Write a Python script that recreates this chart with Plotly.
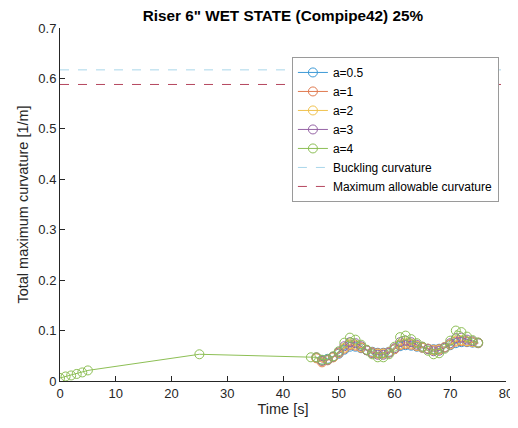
import plotly.graph_objects as go

# ---- data ----
t_cluster = list(range(46, 76))
a05 = [0.046,0.042,0.044,0.048,0.054,0.062,0.068,0.068,0.065,0.061,0.058,0.056,0.056,0.058,0.063,
       0.069,0.071,0.070,0.068,0.066,0.064,0.063,0.064,0.067,0.071,0.075,0.077,0.077,0.076,0.075]
a1 = [0.045,0.037,0.041,0.047,0.055,0.064,0.071,0.070,0.066,0.061,0.057,0.055,0.055,0.057,0.063,
      0.071,0.073,0.072,0.069,0.066,0.064,0.062,0.063,0.067,0.072,0.078,0.079,0.078,0.077,0.075]
a2 = [0.046,0.039,0.042,0.047,0.056,0.066,0.073,0.072,0.067,0.061,0.056,0.054,0.054,0.057,0.064,
      0.073,0.076,0.074,0.070,0.067,0.064,0.061,0.062,0.067,0.073,0.080,0.081,0.079,0.077,0.076]
a3 = [0.047,0.040,0.042,0.048,0.057,0.069,0.077,0.075,0.069,0.061,0.055,0.052,0.052,0.056,0.065,
      0.077,0.080,0.077,0.072,0.068,0.063,0.059,0.060,0.066,0.075,0.085,0.086,0.082,0.079,0.076]
t_a4 = [0, 1, 2, 3, 4, 5, 25, 45] + t_cluster
a4 = [0.006,0.009,0.011,0.014,0.017,0.021,0.053,0.047,
      0.047,0.042,0.043,0.049,0.059,0.076,0.086,0.082,0.072,0.062,0.053,0.047,0.047,0.053,0.068,
      0.087,0.090,0.083,0.075,0.068,0.060,0.053,0.055,0.064,0.080,0.100,0.097,0.088,0.081,0.076]
buckling = 0.617
max_allow = 0.588
x_limits = [0, 80]

series = [
    ("a=0.5", t_cluster, a05, "#3d9ad6"),
    ("a=1", t_cluster, a1, "#e07a4f"),
    ("a=2", t_cluster, a2, "#f0c24e"),
    ("a=3", t_cluster, a3, "#9563a5"),
    ("a=4", t_a4, a4, "#8dbf55"),
]

fig = go.Figure()
for name, x, y, c in series:
    fig.add_trace(go.Scatter(
        x=x, y=y, name=name, mode="lines+markers",
        line=dict(color=c, width=1),
        marker=dict(symbol="circle-open", size=9, color=c, line=dict(width=1, color=c)),
    ))

fig.add_trace(go.Scatter(x=x_limits, y=[buckling, buckling], name="Buckling curvature",
                         mode="lines", line=dict(color="#a9d6ea", width=1, dash="dash")))
fig.add_trace(go.Scatter(x=x_limits, y=[max_allow, max_allow], name="Maximum allowable curvature",
                         mode="lines", line=dict(color="#b5475f", width=1, dash="dash")))

# the page body has an 8px default margin, so the figure is sized/offset to fit the 518x428 window
font_fam = "Liberation Sans, Arial, sans-serif"
fig.update_layout(
    width=510, height=420,
    margin=dict(l=52, r=12, t=20, b=47),
    paper_bgcolor="white", plot_bgcolor="white",
    font=dict(family=font_fam, size=13, color="#262626"),
    title=dict(text='<b>Riser 6" WET STATE (Compipe42) 25%</b>', x=0.539, xanchor="center",
               y=0.981, yanchor="middle", font=dict(size=15.3, color="black")),
    showlegend=True,
    legend=dict(x=0.52, y=0.918, xanchor="left", yanchor="top",
                bgcolor="white", bordercolor="#9a9a9a", borderwidth=1,
                font=dict(size=12, color="black"), tracegroupgap=0),
)
fig.update_xaxes(range=x_limits, dtick=10, ticks="inside", ticklen=5, tickcolor="#262626",
                 showline=True, linecolor="#262626", linewidth=1, showgrid=False, zeroline=False,
                 automargin=False,
                 title=dict(text="Time [s]", font=dict(size=14.5), standoff=4),
                 tickfont=dict(size=13))
fig.update_yaxes(range=[0, 0.7], dtick=0.1, ticks="inside", ticklen=5, tickcolor="#262626",
                 showline=True, linecolor="#262626", linewidth=1, showgrid=False, zeroline=False,
                 automargin=False,
                 title=dict(text="Total maximum curvature [1/m]", font=dict(size=14.5), standoff=6),
                 tickfont=dict(size=13), tickformat=".1~f")

fig.write_html("out.html")
